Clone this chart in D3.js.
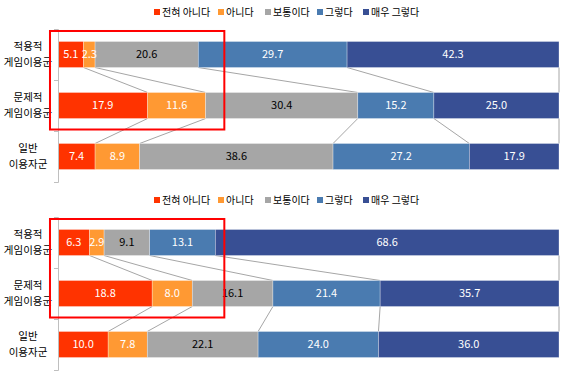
<!DOCTYPE html>
<html>
<head>
<meta charset="utf-8">
<script src="https://cdn.jsdelivr.net/npm/d3@7"></script>
<style>
  html, body { margin: 0; padding: 0; background: #fff; }
  svg { display: block; font-family: "Noto Sans CJK KR", "Noto Sans", sans-serif; }
</style>
</head>
<body>
<svg id="chart"></svg>
<script>
// 응답 구분
const keys = ["전혀 아니다", "아니다", "보통이다", "그렇다", "매우 그렇다"];
const colors = ["#ff3300", "#ff9933", "#a6a6a6", "#4a7bb0", "#384f94"];
const labelColors = ["#fff", "#fff", "#000", "#fff", "#fff"];
// 집단 (두 줄 라벨)
const groups = [["적용적", "게임이용군"], ["문제적", "게임이용군"], ["일반", "이용자군"]];
// 위 차트 값
const topValues = [
  [5.1, 2.3, 20.6, 29.7, 42.3],
  [17.9, 11.6, 30.4, 15.2, 25.0],
  [7.4, 8.9, 38.6, 27.2, 17.9]
];
// 아래 차트 값
const bottomValues = [
  [6.3, 2.9, 9.1, 13.1, 68.6],
  [18.8, 8.0, 16.1, 21.4, 35.7],
  [10.0, 7.8, 22.1, 24.0, 36.0]
];
// 빨간 강조 박스 범위 (% 단위)
const highlight = [-1.6, 33.2];

const width = 567, height = 378;
const svg = d3.select("#chart")
  .attr("width", width)
  .attr("height", height)
  .attr("viewBox", [0, 0, width, height]);

const x = d3.scaleLinear([0, 1], [58, 559]);

function panel(values, top) {
  const g = svg.append("g").attr("transform", `translate(0,${top})`);

  const rows = values.map((v, i) => {
    const o = { name: i };
    keys.forEach((k, j) => o[k] = v[j]);
    return o;
  });
  const series = d3.stack().keys(keys).offset(d3.stackOffsetExpand)(rows);

  const y = d3.scaleBand(d3.range(groups.length), [29, 182])
    .paddingInner(0.49).paddingOuter(0.245);

  // 범례
  const legendX = [154, 218, 265, 317, 363];
  const legend = g.append("g").selectAll("g")
    .data(keys)
    .join("g")
      .attr("transform", (d, i) => `translate(${legendX[i]},12)`);
  legend.append("rect")
    .attr("x", 0).attr("y", -3)
    .attr("width", 6).attr("height", 6)
    .attr("fill", (d, i) => colors[i]);
  legend.append("text")
    .attr("x", 8).attr("dy", "0.35em")
    .attr("font-size", 10)
    .attr("fill", "#000")
    .text(d => d);

  // 연결선
  const lines = [];
  for (let i = 0; i < groups.length - 1; i++) {
    series.forEach(s => {
      lines.push([x(s[i][1]), y(i) + y.bandwidth(), x(s[i + 1][1]), y(i + 1)]);
    });
  }
  g.append("g")
    .attr("stroke", "#a6a6a6")
    .attr("stroke-width", 1)
    .selectAll("line")
    .data(lines)
    .join("line")
      .attr("x1", d => d[0]).attr("y1", d => d[1])
      .attr("x2", d => d[2]).attr("y2", d => d[3]);

  // 막대
  g.append("g")
    .selectAll("g")
    .data(series)
    .join("g")
      .attr("fill", d => colors[d.index])
    .selectAll("rect")
    .data(d => d)
    .join("rect")
      .attr("x", d => x(d[0]))
      .attr("y", (d, i) => y(i))
      .attr("width", d => x(d[1]) - x(d[0]))
      .attr("height", y.bandwidth())
      .attr("stroke", "#fff")
      .attr("stroke-width", 0.6)
      .attr("stroke-opacity", 0.5);

  // 값 라벨
  g.append("g")
    .attr("font-size", 11)
    .attr("text-anchor", "middle")
    .selectAll("g")
    .data(series)
    .join("g")
      .attr("fill", d => labelColors[d.index])
    .selectAll("text")
    .data(d => d.map((p, i) => ({ p, i, v: values[i][d.index] })))
    .join("text")
      .attr("x", d => (x(d.p[0]) + x(d.p[1])) / 2)
      .attr("y", d => y(d.i) + y.bandwidth() / 2)
      .attr("dy", "0.36em")
      .text(d => d.v.toFixed(1));

  // 세로축
  const yTick = d3.scaleLinear([0, groups.length], [29, 182]);
  g.append("g")
    .attr("transform", "translate(58,0)")
    .call(d3.axisLeft(yTick).tickValues(d3.range(groups.length + 1)).tickSize(4).tickFormat(""))
    .call(a => a.selectAll("path, line").attr("stroke", "#bfbfbf"));

  // 집단 라벨
  const cat = g.append("g")
    .attr("font-size", 10.5)
    .attr("text-anchor", "middle")
    .attr("fill", "#000")
    .selectAll("text")
    .data(groups)
    .join("text")
      .attr("x", 28)
      .attr("y", (d, i) => y(i) + y.bandwidth() / 2);
  cat.append("tspan").attr("x", 28).attr("dy", "-0.4em").text(d => d[0]);
  cat.append("tspan").attr("x", 28).attr("dy", "1.5em").text(d => d[1]);

  // 강조 박스
  g.append("rect")
    .attr("x", x(highlight[0] / 100))
    .attr("y", y(0) - 10.5)
    .attr("width", x(highlight[1] / 100) - x(highlight[0] / 100))
    .attr("height", y(1) + y.bandwidth() + 11 - (y(0) - 10.5))
    .attr("fill", "none")
    .attr("stroke", "#ff0000")
    .attr("stroke-width", 2);
}

panel(topValues, 0);
panel(bottomValues, 188);
</script>
</body>
</html>
